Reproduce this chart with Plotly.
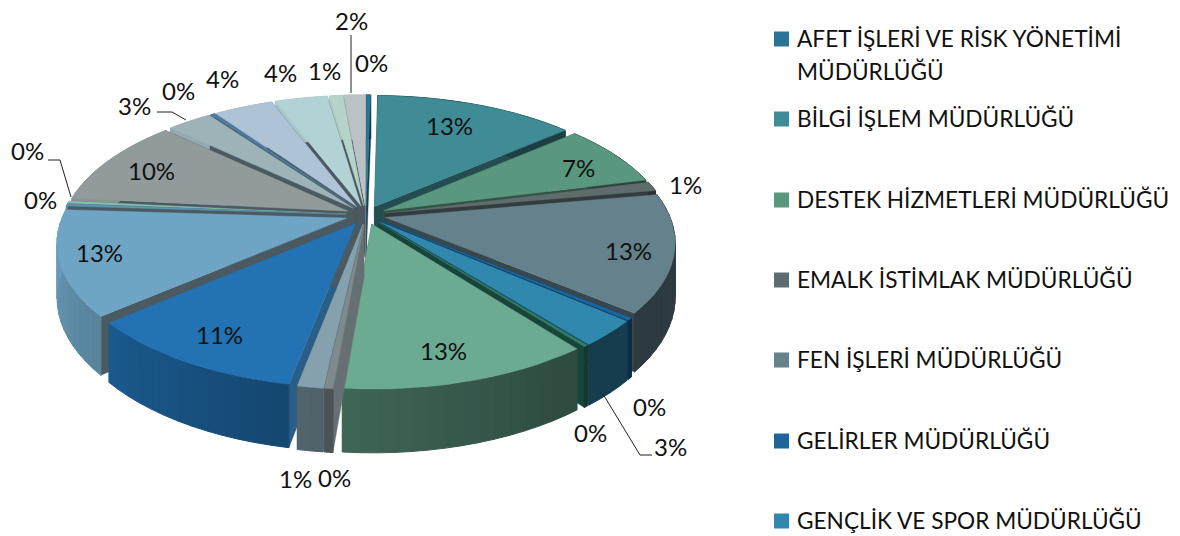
import math
import plotly.graph_objects as go

# ---------- data ----------
legend_names = [
    ["AFET İŞLERİ VE RİSK YÖNETİMİ", "MÜDÜRLÜĞÜ"],
    ["BİLGİ İŞLEM MÜDÜRLÜĞÜ"],
    ["DESTEK HİZMETLERİ MÜDÜRLÜĞÜ"],
    ["EMALK İSTİMLAK MÜDÜRLÜĞÜ"],
    ["FEN İŞLERİ MÜDÜRLÜĞÜ"],
    ["GELİRLER MÜDÜRLÜĞÜ"],
    ["GENÇLİK VE SPOR MÜDÜRLÜĞÜ"],
]
values = [0.3, 13.4, 7.4, 1.1, 13.8, 0.3, 3.0, 0.2, 11.9, 0.4, 1.2,
          10.7, 12.3, 0.3, 0.3, 10.4, 3.0, 0.3, 3.9, 3.5, 0.9, 1.4]
percent_labels = ["0%", "13%", "7%", "1%", "13%", "0%", "3%", "0%", "13%", "0%", "1%",
                  "11%", "13%", "0%", "0%", "10%", "3%", "0%", "4%", "4%", "1%", "2%"]
colors = ["#2a7596", "#408c96", "#5a977f", "#5f6c6e", "#65828c", "#1d659d",
          "#3188ae", "#2f7d68", "#6aab92", "#7f8a8c", "#84a1ad", "#2272b4",
          "#6fa5c4", "#5f93b0", "#86c3ad", "#929b9b", "#9db3b8", "#4a7ba5",
          "#aec3d6", "#b2d2d6", "#b5d3c8", "#bcc2c4"]

# ---------- page / projection layout ----------
W, H = 1180, 536
CX, CY = 366, 215
RX, RA, PERSP = 284, 133, 0.173
DEPTH = 52
PULL = 0.07
ARC_STEP = 3.0  # degrees

LABEL_CENTERS = [(371, 62), (449, 125), (578, 167), (685, 184), (628, 250),
                 (649, 406), (670, 446), (590, 432), (443, 350), (334, 477),
                 (295, 478), (219, 334), (99, 252), (40, 199), (27, 150),
                 (151, 170), (134, 105), (178, 90), (222, 78), (280, 72),
                 (324, 70), (351, 20)]
LEADERS = [
    [(603, 394), (640, 455), (652, 455)],
    [(71, 197), (60, 160), (48, 160)],
    [(186, 120), (172, 112), (157, 112)],
    [(351, 35), (351, 93)],
]
LEGEND_X, LEGEND_TEXT_X = 781.5, 795
LEGEND_YS = [39, 119, 200, 280, 360, 441, 521]
LEGEND_LINE_STEP = 33
LEGEND_SIZE = 15
FONT = "Lato"


def proj(u, v, z=0.0):
    d = 1 + PERSP * v
    return CX + RX * u / d, CY - RA * v / d + z * DEPTH / d


def rgb(c):
    return tuple(int(c[i:i + 2], 16) for i in (1, 3, 5))


def shade(c, f):
    return "rgb(%d,%d,%d)" % tuple(min(255, int(x * f)) for x in rgb(c))


def mix(c, other, t, f=1.0):
    a, b = rgb(c), rgb(other)
    return "rgb(%d,%d,%d)" % tuple(int(a[i] * f * (1 - t) + b[i] * t) for i in range(3))


total = sum(values)
slices = []
acc = 0.0
for val, col in zip(values, colors):
    a0 = acc / total * 360
    acc += val
    a1 = acc / total * 360
    slices.append((a0, a1, col))

fig = go.Figure()


def poly(pts, color, lw=0.4):
    xs = [p[0] for p in pts] + [pts[0][0]]
    ys = [p[1] for p in pts] + [pts[0][1]]
    fig.add_trace(go.Scatter(x=xs, y=ys, mode="lines", fill="toself", fillcolor=color,
                             line=dict(color=color, width=lw), hoverinfo="skip",
                             showlegend=False))


def arc_angles(a0, a1):
    n = max(1, int(math.ceil((a1 - a0) / ARC_STEP)))
    return [a0 + (a1 - a0) * i / n for i in range(n + 1)]


def depth_key(s):
    return math.cos(math.radians((s[0] + s[1]) / 2))


def wall_factor(theta):
    if theta >= 180:
        return min(0.95, 0.58 + (theta - 180) / 90 * 0.38)
    return max(0.45, 0.58 - (180 - theta) * 0.004)


for a0, a1, col in sorted(slices, key=depth_key, reverse=True):
    m = math.radians((a0 + a1) / 2)
    ox, oy = PULL * math.sin(m), PULL * math.cos(m)

    def pt(theta, r, z=0.0):
        t = math.radians(theta)
        return proj(ox + r * math.sin(t), oy + r * math.cos(t), z)

    def radial_color(theta):
        if theta <= 180:
            return shade(col, 0.55)
        return mix(col, "#4b5a60", min(1.0, (theta - 180) / 90 * 2.5), 0.85)

    # radial faces
    for th in (a0, a1):
        poly([pt(th, 0), pt(th, 1), pt(th, 1, 1), pt(th, 0, 1)], radial_color(th))
    # outer wall with horizontal shading
    angs = arc_angles(a0, a1)
    for b0, b1 in zip(angs[:-1], angs[1:]):
        poly([pt(b0, 1), pt(b1, 1), pt(b1, 1, 1), pt(b0, 1, 1)],
             shade(col, wall_factor((b0 + b1) / 2)), lw=1)
    # top surface
    poly([pt(a0, 0)] + [pt(b, 1) for b in angs], col)

# leader lines
for line in LEADERS:
    fig.add_trace(go.Scatter(x=[p[0] for p in line], y=[p[1] for p in line], mode="lines",
                             line=dict(color="#222222", width=1), hoverinfo="skip",
                             showlegend=False))

# data labels
annotations = []
for label, (lx, ly) in zip(percent_labels, LABEL_CENTERS):
    annotations.append(dict(x=lx, y=ly, xref="x", yref="y", text=label,
                            showarrow=False, font=dict(family=FONT, size=24, color="#111111")))

# legend (the reference legend is cut off after seven entries)
fig.add_trace(go.Scatter(x=[LEGEND_X] * len(legend_names), y=LEGEND_YS, mode="markers",
                         marker=dict(symbol="square", size=LEGEND_SIZE, color=colors[:len(legend_names)]),
                         hoverinfo="skip", showlegend=False))
for lines, ly in zip(legend_names, LEGEND_YS):
    for i, line in enumerate(lines):
        annotations.append(dict(x=LEGEND_TEXT_X, y=ly - 1 + i * LEGEND_LINE_STEP, xref="x", yref="y",
                                text=line, showarrow=False, xanchor="left", align="left",
                                font=dict(family=FONT, size=22.65, color="#111111")))

fig.update_layout(
    width=W, height=H, margin=dict(l=0, r=0, t=0, b=0),
    paper_bgcolor="white", plot_bgcolor="white", showlegend=False,
    xaxis=dict(range=[0, W], visible=False, fixedrange=True),
    yaxis=dict(range=[H, 0], visible=False, fixedrange=True),
    annotations=annotations,
)
fig.write_html("out.html", config={"displayModeBar": False},
               post_script="document.body.style.margin='0';")
